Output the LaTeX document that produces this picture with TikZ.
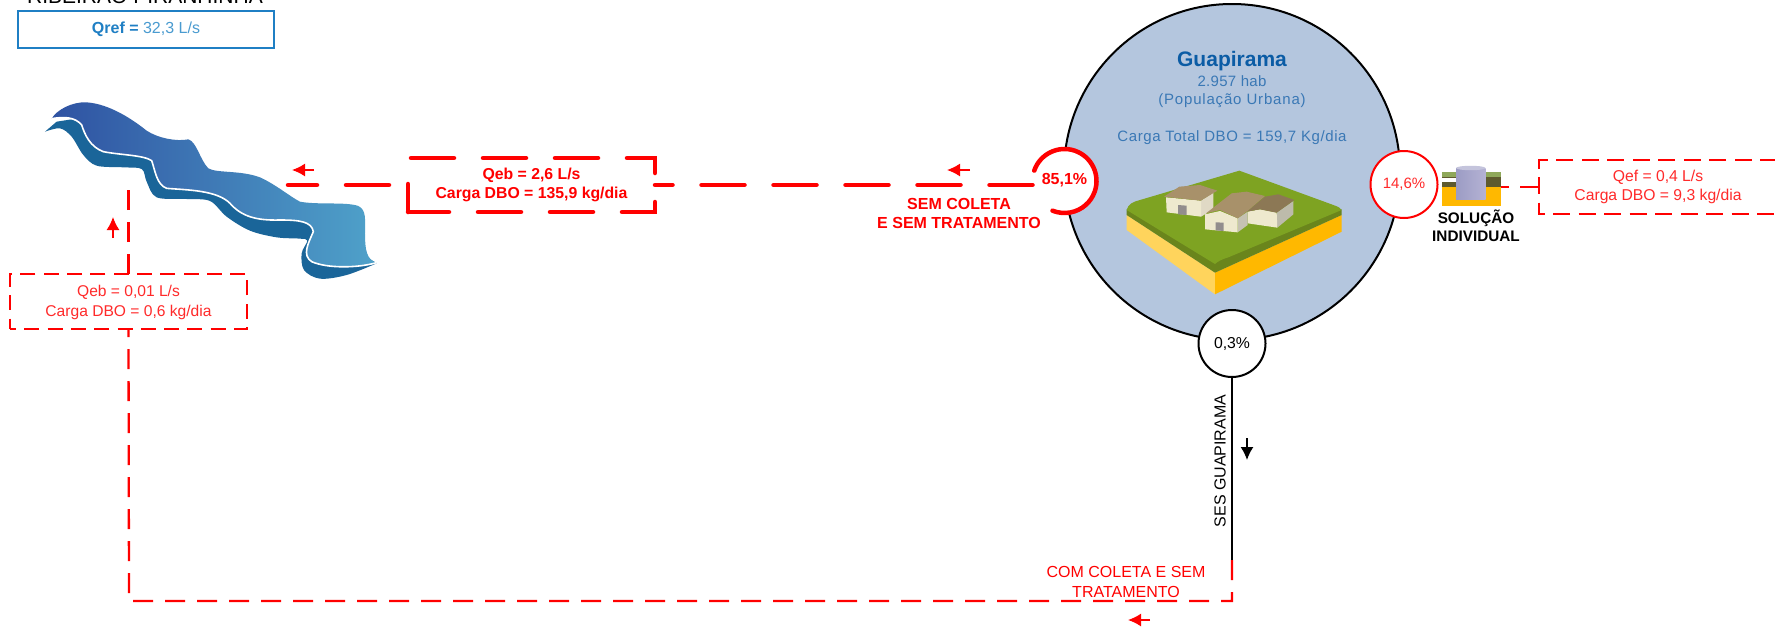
\documentclass[tikz,border=0pt]{standalone}
\usepackage{fontspec}
\setmainfont{Liberation Sans}
\usetikzlibrary{arrows.meta}
\definecolor{rd}{HTML}{FF0000}
\definecolor{rdl}{HTML}{FF2A2A}
\definecolor{qblue}{HTML}{1F7FC4}
\definecolor{qlight}{HTML}{4A9BD0}
\definecolor{cityblue}{HTML}{0B5CA5}
\definecolor{citytext}{HTML}{3A78B5}
\definecolor{citybg}{HTML}{B4C6DE}
\definecolor{rivdark}{HTML}{1A6599}
\definecolor{rivA}{HTML}{2F52A2}
\definecolor{rivB}{HTML}{4FA2CA}
\definecolor{roofA}{HTML}{A8916A}
\definecolor{roofB}{HTML}{8C7855}
\definecolor{wall}{HTML}{EEE9CE}
\definecolor{wallA}{HTML}{E0D9C5}
\definecolor{wallB}{HTML}{C5C2B2}
\definecolor{wallC}{HTML}{BDBBAB}
\definecolor{door}{HTML}{928D8D}
\definecolor{soilA}{HTML}{FFD45C}
\definecolor{soilB}{HTML}{FFB800}
\definecolor{grassA}{HTML}{6A851C}
\definecolor{grassB}{HTML}{7EA322}
\definecolor{tankA}{HTML}{9C9CC4}
\definecolor{tankB}{HTML}{B4B2D4}
\definecolor{tankC}{HTML}{C4C4DC}
\definecolor{landA}{HTML}{8FA85A}
\definecolor{landB}{HTML}{5E5A2E}
\newcommand{\fs}[1]{\fontsize{#1}{#1}\selectfont}
\tikzset{
  txt/.style={inner sep=0pt,outer sep=0pt,align=center},
  heavy/.style={rd,line width=4.5pt,line cap=round,dash pattern=on 43pt off 29pt},
  lightdash/.style={rd,line width=2.3pt,dash pattern=on 20pt off 12pt},
  boxdash/.style={rd,line width=2pt,dash pattern=on 15pt off 8.3pt},
  flow/.style={line width=1.5pt,-{Latex[length=13pt,width=13pt]}},
  holder/.style={inner sep=0pt,outer sep=0pt,minimum width=#1},
  pct/.style={circle,fill=white,inner sep=0pt,outer sep=0pt,minimum size=67pt},
}
\begin{document}
\begin{tikzpicture}[x=1pt,y=-1pt]
\useasboundingbox (0,0) rectangle (1775,627);
\fill[white] (0,0) rectangle (1775,627);

% title cut by the top edge, reference box
\node[txt,anchor=base,font=\fs{21}] (title) at (145,3) {RIBEIRÃO PIRANHINHA};
\node[draw=qblue,line width=2pt,minimum width=256pt,minimum height=37pt,inner sep=0pt,font=\fs{16}] (qref) at (146,29.5)
  {\textcolor{qblue}{\textbf{Qref =}} \textcolor{qlight}{32,3 L/s}};

% river
\begin{scope}[x=0.33333pt,y=-0.33333pt]
\fill[rivdark] plot[smooth,tension=.55] coordinates {(135,395) (180,385) (215,410) (250,465) (290,497) (370,502) (425,507) (440,545) (470,592) (560,597) (630,603) (680,650) (750,692) (830,712) (900,716) (922,722) (905,760) (912,810) (960,836) (1040,825) (1130,790)}
  -- (1020,720) -- (900,640) -- (700,570) -- (500,480) -- (300,390) -- (215,358) -- (170,365) -- cycle;
\path[left color=rivA,right color=rivB] (155,356) .. controls (170,330) and (215,305) .. (260,307) .. controls (330,312) and (400,360) .. (440,392) .. controls (475,415) and (530,425) .. (565,418) .. controls (590,425) and (600,480) .. (625,505) .. controls (650,520) and (720,510) .. (780,532) .. controls (830,555) and (870,590) .. (900,605) .. controls (950,615) and (1040,605) .. (1075,618) .. controls (1100,630) and (1095,660) .. (1095,700) .. controls (1095,750) and (1100,780) .. (1130,788) .. controls (1070,805) and (980,805) .. (935,785) .. controls (905,765) and (925,730) .. (940,695) .. controls (935,665) and (900,660) .. (840,660) .. controls (770,662) and (725,650) .. (690,610) .. controls (650,570) and (560,570) .. (500,565) .. controls (470,555) and (465,510) .. (455,482) .. controls (430,465) and (360,465) .. (310,455) .. controls (270,440) and (255,405) .. (245,375) .. controls (225,350) and (190,350) .. (155,356) -- cycle;
\draw[white,line width=1.6pt] (1130,788) .. controls (1070,805) and (980,805) .. (935,785) .. controls (905,765) and (925,730) .. (940,695) .. controls (935,665) and (900,660) .. (840,660) .. controls (770,662) and (725,650) .. (690,610) .. controls (650,570) and (560,570) .. (500,565) .. controls (470,555) and (465,510) .. (455,482) .. controls (430,465) and (360,465) .. (310,455) .. controls (270,440) and (255,405) .. (245,375) .. controls (225,350) and (190,350) .. (155,356);
\end{scope}

% town
\node[circle,draw=black,fill=citybg,line width=2pt,minimum size=336pt,inner sep=0pt,outer sep=0pt] (city) at (1232,172) {};
\node[txt,text=cityblue,font=\fs{21}\bfseries] (cityname) at (1232,61.5) {Guapirama};
\node[txt,text=citytext,font=\fs{15}] (citypop) at (1232,81) {\addfontfeature{LetterSpace=2}2.957 hab};
\node[txt,text=citytext,font=\fs{15}] (cityurb) at (1232,100.5) {\addfontfeature{LetterSpace=5.5}(População Urbana)};
\node[txt,text=citytext,font=\fs{15}] (cityload) at (1232,138) {\addfontfeature{LetterSpace=4}Carga Total DBO = 159,7 Kg/dia};

\begin{scope}[shift={(1100,160)},x=0.33333pt,y=-0.33333pt]
\fill[soilA] (80,165) -- (345,338) -- (345,403) -- (80,210) -- cycle;
\fill[soilB] (345,338) -- (725,165) -- (725,215) -- (345,403) -- cycle;
\fill[grassA] (80,148) -- (80,165) -- (345,338) -- (725,165) -- (725,148) -- cycle;
\fill[grassB] (80,150) .. controls (84,132) and (100,125) .. (120,120) -- (418,32) -- (700,135) .. controls (715,140) and (722,145) .. (725,150) -- (385,292) .. controls (365,298) and (352,305) .. (345,312) -- cycle;
% house 1
\fill[wallA] (303,122) -- (340,98) -- (340,148) -- (303,170) -- cycle;
\fill[wall] (198,112) -- (303,122) -- (303,170) -- (200,157) -- cycle;
\fill[roofA] (192,110) -- (238,80) -- (300,75) -- (352,92) -- (302,122) -- cycle;
\fill[door] (234,135) -- (260,137) -- (260,165) -- (234,163) -- cycle;
% house 3
\fill[wallC] (530,158) -- (580,123) -- (580,163) -- (532,203) -- cycle;
\fill[wall] (443,155) -- (480,148) -- (530,158) -- (532,203) -- (443,190) -- cycle;
\fill[roofB] (440,155) -- (495,110) -- (535,103) -- (583,120) -- (530,158) -- (480,148) -- cycle;
% house 2
\fill[wallB] (413,175) -- (443,155) -- (443,195) -- (413,217) -- cycle;
\fill[wall] (315,163) -- (360,153) -- (413,175) -- (413,217) -- (315,208) -- cycle;
\fill[roofA] (318,160) -- (395,100) -- (440,95) -- (495,108) -- (440,155) -- (413,175) -- (360,150) -- cycle;
\fill[door] (347,187) -- (371,188) -- (371,213) -- (347,211) -- cycle;
\end{scope}

% box on the main discharge
\node[holder=247pt,minimum height=54pt,txt,text=rd,font=\fs{15.8}\bfseries] (boxA) at (531.5,185) {\raisebox{1pt}{Qeb = 2,6 L/s}\\[3pt]Carga DBO = 135,9 kg/dia};
\draw[heavy,dash phase=2pt] (boxA.south west) -- (boxA.south east) -- (boxA.north east) -- (boxA.north west) -- cycle;

% 85,1 %
\node[pct,minimum size=64pt] (cA) at (1064.5,181) {};
\coordinate (riverIn) at (288,185);
\coordinate (cAout) at (1032.5,185);
\draw[heavy] (cAout) -- (boxA.east);
\draw[heavy,dash phase=53pt] (boxA.west) -- (riverIn);
\draw[rd,line width=4.5pt,line cap=round] (cA.161) arc[start angle=161,end angle=-112,radius=32pt];
\node[txt,text=rd,font=\fs{16}\bfseries] (cAt) at (1064.5,180.5) {85,1\%};
\node[txt,text=rd,font=\fs{16}\bfseries] (semcol) at (959,213.5) {SEM COLETA\\[3pt]E SEM TRATAMENTO};

% flow arrows
\coordinate (a1s) at (314,170); \coordinate (a1e) at (292,170);
\draw[flow,rd] (a1s) -- (a1e);
\coordinate (a2s) at (970,170); \coordinate (a2e) at (947,170);
\draw[flow,rd] (a2s) -- (a2e);
\coordinate (a3s) at (113,238); \coordinate (a3e) at (113,217);
\draw[flow,rd] (a3s) -- (a3e);
\coordinate (a4s) at (1247,438); \coordinate (a4e) at (1247,460);
\draw[flow,black] (a4s) -- (a4e);
\coordinate (a5s) at (1150,620); \coordinate (a5e) at (1128,620);
\draw[flow,rd] (a5s) -- (a5e);

% 14,6 % and individual solution
\node[pct,draw=rd,line width=2pt] (cB) at (1404,184.5) {};
\node[txt,text=rdl,font=\fs{15}] (cBt) at (cB) {14,6\%};
\node[inner sep=0pt,outer sep=0pt,minimum width=59pt,minimum height=41pt] (tank) at (1471.5,185.5) {};
\fill[soilB] (1442,187) rectangle (1501,206);
\fill[landA] (1442,172) rectangle (1501,177);
\fill[landB] (1442,177) rectangle (1501,187);
\fill[white] (1442,178) rectangle (1458,182);
\shade[left color=tankA,right color=tankB] (1456,168) rectangle (1485.5,199);
\fill[tankC] (1470.7,168) ellipse [x radius=14.7pt,y radius=2.2pt];
\node[txt,font=\fs{15.3}\bfseries] (sol) at (1476,225.5) {SOLUÇÃO\\[3pt]INDIVIDUAL};

% right box
\node[holder=238pt,minimum height=54pt,txt,text=rdl,font=\fs{15.7}] (boxC) at (1658,187) {Qef = 0,4 L/s\\[3.5pt]Carga DBO = 9,3 kg/dia};
\draw[boxdash,dash pattern=on 17pt off 8.5pt] (boxC.north east) -- (boxC.north west) -- (boxC.south west) -- (boxC.south east);
\draw[lightdash,dash pattern=on 19pt off 11pt] (boxC.west) -- (boxC.west -| tank.east);

% 0,3 % and sewer
\node[pct,draw=black,line width=2pt] (cC) at (1232,343.5) {};
\node[txt,font=\fs{15.8}] (cCt) at (cC) {0,3\%};
\coordinate (sesEnd) at (1232,560);
\coordinate (corner1) at (1232,601);
\coordinate (corner2) at (129,601);
\draw[black,line width=2.6pt] (cC.south) -- (sesEnd);
\node[txt,rotate=90,font=\fs{16}] (ses) at (1220,461) {SES GUAPIRAMA};
\node[txt,text=rd,font=\fs{16}] (comcol) at (1126,582) {COM COLETA E SEM\\[4pt]TRATAMENTO};

% left box and the dashed return
\node[holder=237pt,minimum height=55pt,txt,text=rdl,font=\fs{15.6}] (boxB) at (128.5,302.5) {Qeb = 0,01 L/s\\[4pt]Carga DBO = 0,6 kg/dia};
\coordinate (bbL) at (10,274); \coordinate (bbR) at (247,329);
\draw[boxdash,dash phase=9pt] (bbL |- bbR) -- (bbR) -- (bbR |- bbL) -- (bbL) -- cycle;
\coordinate (retA) at (128.5,329); \coordinate (retB) at (128.5,274);
\draw[lightdash] (sesEnd) -- (corner1) -- (corner2) -- (retA);
\coordinate (riverIn2) at (128.5,190);
\draw[lightdash] (retB) -- (riverIn2);
\end{tikzpicture}
\end{document}
